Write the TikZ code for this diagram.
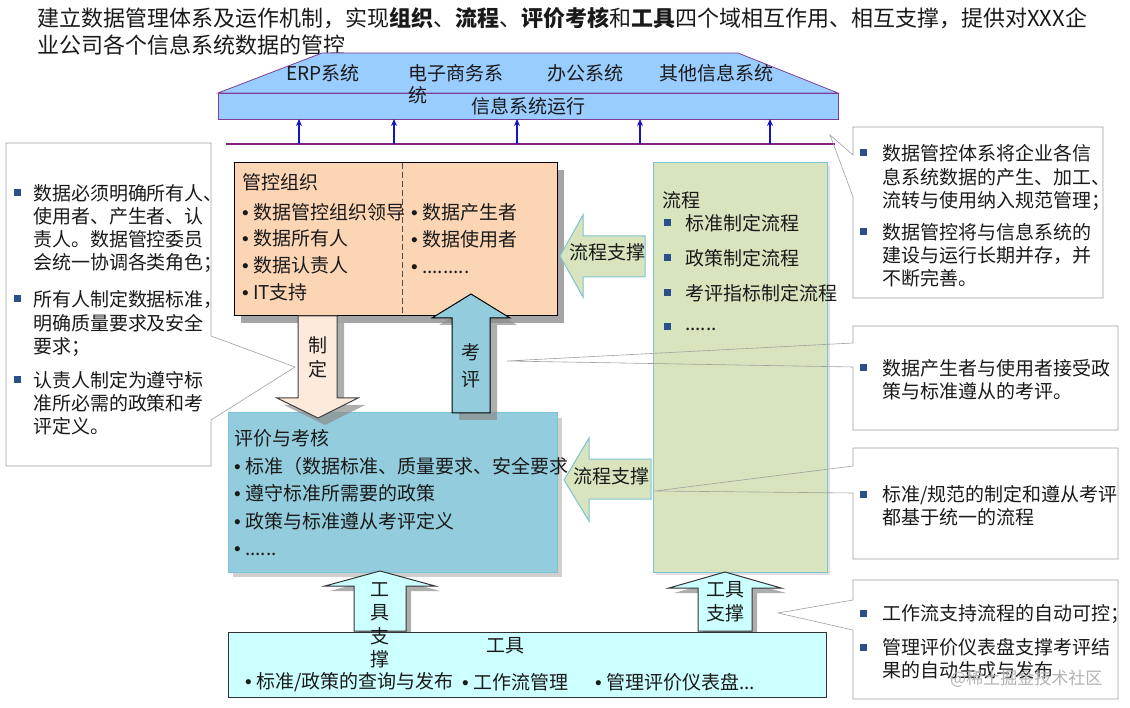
\documentclass[tikz,border=0pt]{standalone}
\usepackage{fontspec}
\setmainfont{Noto Sans CJK SC}
\newfontfamily\bulfont{Liberation Sans}
\newcommand\bul{\makebox[11pt][l]{\bulfont •}}
\usetikzlibrary{shadows,arrows.meta}
\definecolor{sysblue}{HTML}{99CCFF}
\definecolor{syspurple}{HTML}{7F3F98}
\definecolor{linepurple}{HTML}{80207F}
\definecolor{arrblue}{HTML}{1414C0}
\definecolor{orgfill}{HTML}{FCD5B5}
\definecolor{peach}{HTML}{FDEADA}
\definecolor{evalfill}{HTML}{93CDDD}
\definecolor{tealline}{HTML}{7FC3D3}
\definecolor{greenfill}{HTML}{D7E4BD}
\definecolor{toolfill}{HTML}{CCFFFF}
\definecolor{bulletblue}{HTML}{2B4F8A}
\definecolor{callgray}{HTML}{A0A0A0}
\definecolor{txtcol}{HTML}{1A1A1A}
\begin{document}
\begin{tikzpicture}[x=1pt,y=-1pt,
  t/.style={inner sep=0pt,outer sep=0pt,anchor=west,text=txtcol,font=\fontsize{19}{23}\selectfont},
  tc/.style={inner sep=0pt,outer sep=0pt,anchor=center,text=txtcol,font=\fontsize{19}{23}\selectfont},
  ml/.style={inner sep=0pt,outer sep=0pt,anchor=north west,align=left,text=txtcol,font=\fontsize{19}{23}\selectfont},
  sq/.style={fill=bulletblue,draw=none,minimum size=7pt,inner sep=0pt,outer sep=0pt},
  callbox/.style={fill=white,draw=none},
  callline/.style={draw=callgray,line width=0.6pt,line join=miter},
  sysarrow/.style={arrblue,line width=1.3pt,-{Stealth[length=7pt,width=6pt]}},
  blk/.style={line width=1pt,line join=miter},
  shad/.style={drop shadow={shadow xshift=#1,shadow yshift=-#1,fill=black!45,opacity=0.7}},
  boxn/.style={inner sep=0pt,outer sep=0pt,anchor=north west},
]
\useasboundingbox (0,0) rectangle (1130,708);
\fill[white] (0,0) rectangle (1130,708);

% title
\node[inner sep=0pt,anchor=north west,align=left,text=txtcol,font=\fontsize{22}{27}\selectfont] (title) at (37,7.5)
 {\strut 建立数据管理体系及运作机制，实现\textbf{组织}、\textbf{流程}、\textbf{评价考核}和\textbf{工具}四个域相互作用、相互支撑，提供对XXX企\\业公司各个信息系统数据的管控};

% systems trapezoid and bar
\filldraw[fill=sysblue,draw=syspurple,line width=0.8pt] (218,93) -- (322,53) -- (738,53) -- (838,93) -- cycle;
\node[boxn,fill=sysblue,draw=syspurple,line width=0.8pt,minimum width=620pt,minimum height=26pt] (bar) at (218,93) {};
\node[t] (erp) at (286,73) {ERP系统};
\node[t] (ec1) at (408,73) {电子商务系};
\node[t] (ec2) at (408,95) {统};
\node[t] (oa) at (547,73) {办公系统};
\node[t] (oth) at (659,73) {其他信息系统};
\node[tc] (run) at (528,106) {信息系统运行};

% purple line and arrows
\coordinate (pl) at (226,144);
\coordinate (pr) at (835,144);
\draw[linepurple,line width=1.5pt] (pl) -- (pr);
\foreach \i/\xx in {1/299,2/394,3/517,4/640,5/770}{
  \coordinate (up\i) at (\xx,144);
  \coordinate (ub\i) at (\xx,119);
  \draw[sysarrow] (up\i) -- (ub\i);
}

% green process box
\node[boxn,fill=greenfill,draw=tealline,line width=1pt,minimum width=174pt,minimum height=409pt,
  drop shadow={shadow xshift=3pt,shadow yshift=-3pt,fill=black!20,opacity=0.6}] (proc) at (653,163) {};
\node[t] (proct) at (662,200) {流程};
\foreach \i/\yy in {1/223,2/258,3/293,4/327}{ \node[sq] (pb\i) at (667,\yy) {}; }
\node[t] (p1) at (685,223) {标准制定流程};
\node[t] (p2) at (685,258) {政策制定流程};
\node[t] (p3) at (685,293) {考评指标制定流程};
\node[t] (p4) at (685,329) {......};

% evaluation box
\node[boxn,fill=evalfill,draw=tealline,line width=1pt,minimum width=329pt,minimum height=159pt,
  drop shadow={shadow xshift=5pt,shadow yshift=-5pt,fill=black!30,opacity=0.6}] (eval) at (228,413) {};
\node[t] (evt) at (234,438) {评价与考核};
\node[inner sep=0pt,outer sep=0pt,anchor=north west,align=left,text=txtcol,font=\fontsize{19}{27.3}\selectfont] (evl) at (234,454.5)
 {\strut \bul 标准（数据标准、质量要求、安全要求\\\bul 遵守标准所需要的政策\\\bul 政策与标准遵从考评定义\\\bul ......};

% organisation box
\node[boxn,fill=orgfill,draw=black,line width=1pt,minimum width=323pt,minimum height=153pt,
  drop shadow={shadow xshift=7pt,shadow yshift=-7pt,fill=black!50,opacity=0.7}] (org) at (234,163) {};
\draw[black!70,dash pattern=on 6pt off 3pt,line width=0.9pt] (org.north west) ++(168,0) coordinate (dt) -- (dt |- org.south);
\node[t] (orgt) at (242,182) {管控组织};
\node[inner sep=0pt,outer sep=0pt,anchor=north west,align=left,text=txtcol,font=\fontsize{19}{26.7}\selectfont] (orgl) at (242,200.5)
 {\strut \bul 数据管控组织领导\\\bul 数据所有人\\\bul 数据认责人\\\bul IT支持};
\node[inner sep=0pt,outer sep=0pt,anchor=north west,align=left,text=txtcol,font=\fontsize{19}{27}\selectfont] (orgr) at (411,200.5)
 {\strut \bul 数据产生者\\\bul 数据使用者\\\bul .........};

% tool box
\node[boxn,fill=toolfill,draw=black!80,line width=1pt,minimum width=598pt,minimum height=65pt] (tool) at (228,632) {};

% callouts
\path[callbox] (6,143) rectangle (211,466);
\draw[callline] (211,336) -- (295,367) -- (211,420) -- (211,466) -- (6,466) -- (6,143) -- (211,143) -- cycle;
\path[callbox] (853,127) rectangle (1103,298);
\draw[callline] (853,155) -- (830,135) -- (853,197) -- (853,298) -- (1103,298) -- (1103,127) -- (853,127) -- cycle;
\path[callbox] (853,326) rectangle (1118,430);
\draw[callline] (853,343) -- (507,361) -- (853,367) -- (853,430) -- (1118,430) -- (1118,326) -- (853,326) -- cycle;
\path[callbox] (853,448) rectangle (1118,559);
\draw[callline] (853,466) -- (655,491) -- (853,493) -- (853,559) -- (1118,559) -- (1118,448) -- (853,448) -- cycle;
\path[callbox] (853,580) rectangle (1118,699);
\draw[callline] (853,600) -- (778,613) -- (853,630) -- (853,699) -- (1118,699) -- (1118,580) -- (853,580) -- cycle;

% left callout text
\node[sq] (lb1) at (17,193) {};
\node[sq] (lb2) at (17,299) {};
\node[sq] (lb3) at (17,380) {};
\node[ml] (lt1) at (33,184.1) {\strut 数据必须明确所有人、\\使用者、产生者、认\\责人。数据管控委员\\会统一协调各类角色；};
\node[ml] (lt2) at (33,290.1) {\strut 所有人制定数据标准，\\明确质量要求及安全\\要求；};
\node[ml] (lt3) at (33,371.1) {\strut 认责人制定为遵守标\\准所必需的政策和考\\评定义。};

% right callout texts
\node[sq] (rb1) at (863,153) {};
\node[sq] (rb2) at (863,232) {};
\node[ml] (rt1) at (882,144.1) {\strut 数据管控体系将企业各信\\息系统数据的产生、加工、\\流转与使用纳入规范管理；};
\node[ml] (rt2) at (882,223.1) {\strut 数据管控将与信息系统的\\建设与运行长期并存，并\\不断完善。};
\node[sq] (rb3) at (863,368) {};
\node[ml] (rt3) at (882,359.1) {\strut 数据产生者与使用者接受政\\策与标准遵从的考评。};
\node[sq] (rb4) at (863,494) {};
\node[ml] (rt4) at (882,485.1) {\strut 标准/规范的制定和遵从考评\\都基于统一的流程};
\node[sq] (rb5) at (863,613) {};
\node[sq] (rb6) at (863,647) {};
\node[ml] (rt5) at (882,604.1) {\strut 工作流支持流程的自动可控；};
\node[ml] (rt6) at (882,638.1) {\strut 管理评价仪表盘支撑考评结\\果的自动生成与发布};
\node[inner sep=0pt,anchor=west,text=black!30,font=\fontsize{17}{20}\selectfont] (wm) at (950,679) {@稀土掘金技术社区};

% block arrows
\filldraw[blk,fill=peach,draw=black!75,shad=7pt] (298,316) -- (337,316) -- (337,398) -- (358,398) -- (318,418) -- (277,398) -- (298,398) -- cycle;
\filldraw[blk,fill=evalfill,draw=black,shad=7pt] (452,413) -- (452,318) -- (432,318) -- (471,294) -- (510,318) -- (490,318) -- (490,413) -- cycle;
\filldraw[blk,fill=greenfill,draw=tealline] (645,236) -- (583,236) -- (583,215) -- (560,256) -- (583,297) -- (583,277) -- (645,277) -- cycle;
\filldraw[blk,fill=greenfill,draw=tealline] (651,459) -- (589,459) -- (589,438) -- (564,480) -- (589,521) -- (589,499) -- (651,499) -- cycle;
\filldraw[blk,fill=toolfill,draw=black!80,shad=5pt] (354,631) -- (354,586) -- (325,586) -- (380,571) -- (435,586) -- (406,586) -- (406,631) -- cycle;
\filldraw[blk,fill=toolfill,draw=black!80,shad=5pt] (698,631) -- (698,588) -- (669,588) -- (725,572) -- (781,588) -- (752,588) -- (752,631) -- cycle;
% redraw tool box over shadows
\fill[toolfill] (tool.north west) ++(0.5,1) rectangle (tool.south east);
\draw[black!80,line width=1pt] (tool.north west) rectangle (tool.south east);

% arrow labels
\node[tc] (zd1) at (318,345) {制};
\node[tc] (zd2) at (318,369) {定};
\node[tc] (kp1) at (471,352) {考};
\node[tc] (kp2) at (471,380) {评};
\node[tc] (lc1) at (607,252) {流程支撑};
\node[tc] (lc2) at (611,476) {流程支撑};
\node[tc] (gj1) at (380,590) {工};
\node[tc] (gj2) at (380,613) {具};
\node[tc] (gj3) at (380,636) {支};
\node[tc] (gj4) at (380,659) {撑};
\node[tc] (gr1) at (725,590) {工具};
\node[tc] (gr2) at (725,613) {支撑};

% tool box text
\node[tc] (toolt) at (505,646) {工具};
\node[t] (tl1) at (245,682) {\bul 标准/政策的查询与发布};
\node[t] (tl2) at (462,682) {\bul 工作流管理};
\node[t] (tl3) at (595,682) {\bul 管理评价仪表盘...};
\end{tikzpicture}
\end{document}
